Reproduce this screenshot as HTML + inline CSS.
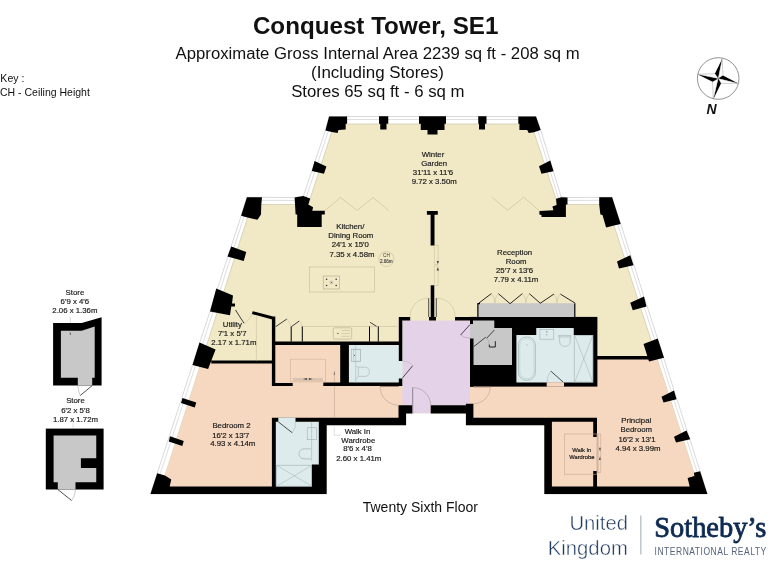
<!DOCTYPE html>
<html><head><meta charset="utf-8"><style>
html,body{margin:0;padding:0;background:#fff;}
body{width:768px;height:576px;overflow:hidden;position:relative;font-family:"Liberation Sans",sans-serif;}
.t{position:absolute;white-space:nowrap;color:#111;}
</style></head><body>
<svg width="768" height="576" viewBox="0 0 768 576" style="position:absolute;left:0;top:0;will-change:transform" font-family="Liberation Sans, sans-serif">
<polygon points="329.10,116.50 536.00,116.50 540.70,130.00 561.25,197.20 567.50,197.50 612.10,197.30 620.70,224.00 707.37,494.00 150.47,494.00 241.10,216.00 246.90,197.30 294.60,197.50 303.40,196.10 325.40,130.50" fill="#fff" stroke="#cfcfcf" stroke-width="0.8"/>
<polygon points="331.41,119.50 533.87,119.50 537.85,130.93 559.00,200.10 567.43,200.50 609.92,200.31 617.84,224.92 703.26,491.00 154.61,491.00 243.96,216.91 249.11,200.31 294.83,200.50 305.67,198.78 328.28,131.36" fill="none" stroke="#d6d6d6" stroke-width="0.8"/>
<polygon points="334.30,124.00 531.25,124.00 557.90,204.50 607.25,204.50 698.30,486.40 161.48,486.40 251.70,204.50 308.30,204.50" fill="#f1e9c6" stroke="#d0cbb0" stroke-width="0.8"/>
<polygon points="201.61,361.00 272.00,361.00 272.00,341.60 402.30,341.60 402.30,418.00 272.00,418.00 272.00,487.00 161.29,487.00" fill="#f5d8bf"/>
<polygon points="470.00,386.00 597.00,386.00 597.00,357.00 656.51,357.00 698.50,487.00 551.90,487.00 551.90,418.00 470.00,418.00" fill="#f5d8bf"/>
<polygon points="402.30,320.40 470.00,320.40 470.00,405.20 430.70,405.20 430.70,413.40 412.30,413.40 412.30,405.20 402.30,405.20" fill="#e4d3e8"/>
<polygon points="326.70,425.30 405.90,425.30 405.90,413.40 465.90,413.40 465.90,425.30 544.30,425.30 544.30,500.00 326.70,500.00" fill="#fff"/>
<rect x="470" y="316.9" width="127.4" height="69.7" fill="#000"/>
<rect x="348.9" y="345.1" width="53.4" height="37.5" fill="#ddebec"/>
<rect x="275.8" y="421.6" width="43.1" height="65.4" fill="#ddebec"/>
<polygon points="536.25,328.00 573.75,328.00 573.75,335.00 593.20,335.00 593.20,382.40 516.40,382.40 516.40,335.00 536.25,335.00" fill="#ddebec"/>
<polygon points="470.00,320.50 494.30,320.50 494.30,328.00 512.00,328.00 512.00,365.00 473.50,365.00 473.50,338.40 470.00,338.40" fill="#c8c8c8"/>
<rect x="477.3" y="303.2" width="97.5" height="13.7" fill="#c8c8c8"/>
<path d="M477.9,316.9 V303.6 H480" stroke="#000" stroke-width="1.2" fill="none"/>
<path d="M574.8,303.4 V316.9" stroke="#000" stroke-width="1.2" fill="none"/>
<rect x="546.7" y="382.2" width="17.3" height="4.5" fill="#f5d8bf"/>
<path fill="#000" d="M329.10,116.50 L347.10,116.50 L347.10,123.75 L345.70,123.75 L345.70,129.50 L338.40,130.00 L337.70,132.90 L331.70,131.90 L325.40,130.50 Z M379.00,116.30 L388.25,116.30 L388.25,123.75 L386.50,123.75 L386.50,129.50 L380.25,129.50 L380.25,123.75 L379.00,123.75 Z M419.00,116.30 L446.00,116.30 L446.00,123.75 L444.50,123.75 L444.50,130.00 L437.50,130.00 L437.50,134.50 L427.50,134.50 L427.50,130.00 L420.75,130.00 L420.75,123.75 L419.00,123.75 Z M478.25,116.30 L486.50,116.30 L486.50,123.75 L485.00,123.75 L485.00,129.50 L479.00,129.50 L479.00,123.75 L478.25,123.75 Z M518.30,116.50 L536.00,116.50 L540.70,130.00 L534.00,132.30 L528.75,133.10 L527.20,130.00 L519.40,130.00 L519.40,123.75 L518.30,123.75 Z M314.60,161.00 L326.40,166.50 L324.00,173.80 L311.80,171.00 Z M539.00,166.25 L550.25,160.50 L553.50,171.25 L541.50,173.75 Z M294.60,197.50 L303.40,196.10 L310.20,198.50 L308.30,204.50 L313.10,207.30 L312.30,210.70 L324.80,210.70 L324.80,214.40 L321.70,214.40 L321.70,226.90 L297.20,226.90 L297.20,214.40 L295.60,214.40 Z M556.00,198.75 L561.25,197.20 L567.50,197.50 L567.50,204.50 L565.90,204.50 L565.90,217.00 L541.50,217.00 L541.50,214.90 L539.40,214.40 L539.40,211.00 L553.40,210.20 L552.40,206.60 L556.60,205.00 Z M246.90,197.30 L262.00,197.30 L261.25,205.10 L261.00,214.50 L257.50,219.70 L247.40,217.60 L241.10,215.80 Z M599.20,197.30 L612.10,197.30 L620.70,223.90 L614.00,225.40 L606.10,227.50 L602.50,215.00 L600.40,214.50 L599.20,204.60 Z M157.20,473.30 L165.00,475.40 L171.25,479.60 L169.70,486.40 L326.70,486.40 L326.70,494.00 L150.47,494.00 Z M707.37,494.00 L544.30,494.00 L544.30,486.40 L689.70,486.40 L687.60,478.00 L694.40,476.00 L693.90,472.80 L700.10,471.25 Z M231.25,246.50 L246.25,252.00 L243.75,261.00 L227.50,256.50 Z M216.25,288.50 L233.00,295.50 L232.00,303.50 L235.00,303.50 L235.00,306.50 L231.30,306.50 L230.00,315.25 L210.00,311.50 Z M199.50,342.50 L215.60,349.50 L208.10,369.00 L192.50,365.00 Z M182.50,398.00 L196.25,402.50 L194.75,407.50 L181.00,403.00 Z M170.00,436.25 L183.75,441.00 L182.25,446.00 L168.75,441.50 Z M617.00,261.50 L630.25,255.25 L633.50,265.25 L619.00,268.50 Z M630.25,302.75 L644.00,296.50 L646.50,306.50 L632.75,310.25 Z M643.50,344.00 L657.75,338.50 L664.00,357.75 L649.00,361.50 Z M661.50,396.75 L674.00,390.50 L676.50,399.25 L663.50,402.50 Z M674.00,436.75 L686.50,430.50 L690.25,439.25 L676.00,442.50 Z M252.69,311.15 L273.99,316.85 L273.21,319.75 L251.91,314.05 Z M271.90,316.50 L275.30,316.50 L275.30,386.10 L271.90,386.10 Z M211.25,360.50 L275.00,360.50 L275.00,363.60 L211.25,363.60 Z M272.50,341.40 L402.30,341.40 L402.30,345.10 L272.50,345.10 Z M340.20,341.40 L348.90,341.40 L348.90,386.00 L340.20,386.00 Z M271.90,383.00 L292.70,383.00 L292.70,386.10 L271.90,386.10 Z M323.30,382.60 L402.30,382.60 L402.30,386.00 L323.30,386.00 Z M398.80,317.00 L402.30,317.00 L402.30,361.00 L398.80,361.00 Z M398.80,378.40 L402.30,378.40 L402.30,386.00 L398.80,386.00 Z M398.50,405.20 L406.10,405.20 L406.10,425.30 L398.50,425.30 Z M398.80,316.90 L410.20,316.90 L410.20,320.40 L398.80,320.40 Z M429.00,316.90 L436.00,316.90 L436.00,320.40 L429.00,320.40 Z M455.00,316.90 L470.00,316.90 L470.00,320.40 L455.00,320.40 Z M430.70,285.30 L434.30,285.30 L434.30,320.40 L430.70,320.40 Z M426.90,210.90 L437.80,210.90 L437.80,214.70 L426.90,214.70 Z M430.60,214.70 L434.50,214.70 L434.50,245.60 L430.60,245.60 Z M398.50,405.20 L412.30,405.20 L412.30,413.40 L398.50,413.40 Z M430.70,405.20 L470.00,405.20 L470.00,413.40 L430.70,413.40 Z M465.90,403.80 L473.40,403.80 L473.40,425.30 L465.90,425.30 Z M465.90,417.80 L551.90,417.80 L551.90,425.30 L465.90,425.30 Z M544.30,417.80 L551.90,417.80 L551.90,494.00 L544.30,494.00 Z M551.90,417.80 L597.00,417.80 L597.00,421.70 L551.90,421.70 Z M593.20,417.80 L597.00,417.80 L597.00,437.00 L593.20,437.00 Z M593.20,470.90 L597.00,470.90 L597.00,486.40 L593.20,486.40 Z M272.00,417.80 L405.90,417.80 L405.90,421.70 L272.00,421.70 Z M318.90,417.80 L405.90,417.80 L405.90,425.30 L318.90,425.30 Z M318.90,417.80 L326.70,417.80 L326.70,494.00 L318.90,494.00 Z M271.90,417.80 L275.80,417.80 L275.80,487.00 L271.90,487.00 Z M311.90,464.40 L319.50,464.40 L319.50,487.00 L311.90,487.00 Z M596.50,356.00 L649.00,356.00 L649.00,359.40 L596.50,359.40 Z M470.00,386.00 L473.40,386.00 L473.40,386.80 L470.00,386.80 Z M470.00,320.00 L473.00,320.00 L473.00,324.00 L470.00,324.00 Z"/>
<rect x="278.3" y="417.6" width="17.2" height="4.4" fill="#ddebec"/>
<g><polyline points="324.8,210.7 340.5,197.5 357,210.5 373,197.5 388.5,210.5" stroke="#c9c1a0" stroke-width="0.7" fill="none"/><polyline points="492,197.3 507.6,210.3 523.75,197.3 539.4,210.8" stroke="#c9c1a0" stroke-width="0.7" fill="none"/><path d="M478.7,303.2 L491.4,293.6 M498.3,293.6 L510.1,303.7 L522.4,293.6 M529.3,293.6 L540.25,303.25 L554,294 M560.25,294 L575.25,303.25" stroke="#111" stroke-width="0.9" fill="none"/><path d="M491.4,293.6 Q495,297 494.8,303 Q495,297 498.3,293.6 M522.4,293.6 Q526,297 525.8,303 Q526,297 529.3,293.6 M554,294 Q557,297 557,303 Q557,297 560.25,294" stroke="#c9c1a0" stroke-width="0.6" fill="none"/><rect x="434.2" y="245.6" width="3.9" height="18.8" fill="none" stroke="#c9c1a0" stroke-width="0.6"/><rect x="434.2" y="266" width="3.9" height="19.5" fill="none" stroke="#c9c1a0" stroke-width="0.6"/><path d="M410.2,317.5 A18,18 0 0 1 428.4,298.2 M455,317.5 A18,18 0 0 0 436.6,298.2" stroke="#c9c1a0" stroke-width="0.6" fill="none"/><path d="M428.7,298.2 V317 M436.3,298.2 V317" stroke="#222" stroke-width="0.8" fill="none"/><rect x="309.5" y="267" width="65" height="25" fill="none" stroke="#c9c1a0" stroke-width="0.7"/><rect x="323.25" y="276" width="16.25" height="13" fill="none" stroke="#b8b090" stroke-width="0.7"/><g fill="#333"><circle cx="326.6" cy="279.3" r="0.8"/><circle cx="336.2" cy="279.3" r="0.8"/><circle cx="326.6" cy="285.5" r="0.8"/><circle cx="336.2" cy="285.5" r="0.8"/><circle cx="331.4" cy="282.4" r="0.5"/></g><circle cx="331.4" cy="282.4" r="1.5" fill="none" stroke="#888" stroke-width="0.4"/><circle cx="386.4" cy="259" r="7.5" fill="none" stroke="#c8c0a0" stroke-width="0.7"/><path d="M302.7,326.4 H398.6" stroke="#c9c1a0" stroke-width="0.7" fill="none"/><rect x="333.2" y="327.8" width="18.5" height="11.3" rx="1.5" fill="none" stroke="#c0b898" stroke-width="0.8"/><circle cx="337.9" cy="333.4" r="0.7" fill="#555"/><path d="M341.5,330.5 H350 M341.5,333.4 H350 M341.5,336.3 H350" stroke="#c0b898" stroke-width="0.6"/><path d="M291.2,326.4 V341.6 M302.3,326.4 V341.6 M369.5,326.4 V341.6 M378.3,326.4 V341.6" stroke="#000" stroke-width="1" fill="none"/><path d="M275.7,326.6 L286.9,319 M291.6,326.6 L299.2,321 M370.1,322.3 L376.6,326.4" stroke="#111" stroke-width="0.8" fill="none"/><path d="M286.9,319 Q290,322 290.4,326.4 M299.2,321 Q301.5,323 301.8,326.4" stroke="#c9c1a0" stroke-width="0.6" fill="none"/><path d="M235.5,310 L244,323.3" stroke="#111" stroke-width="0.8"/><path d="M244,323.3 Q250,320 251.9,313.9" stroke="#c9c1a0" stroke-width="0.6" fill="none"/><path d="M256.4,316 V360.5" stroke="#c9c1a0" stroke-width="0.6"/><rect x="351.5" y="349.2" width="9" height="12.2" fill="none" stroke="#a9b3b5" stroke-width="0.6"/><rect x="353.6" y="349.6" width="6.8" height="11.5" fill="none" stroke="#a9b3b5" stroke-width="0.5"/><circle cx="354.5" cy="355.3" r="0.6" fill="#555"/><path d="M355.6,345.1 V382.6" stroke="#a9b3b5" stroke-width="0.5"/><path d="M356,366.3 L358.3,367.2 H365 Q369.5,367.5 369.5,371.8 Q369.5,376.2 365,376.4 H358.3 V367.2 M358.3,376.4 L356,379.5" fill="none" stroke="#a9b3b5" stroke-width="0.6"/><path d="M402.3,378.2 L412.6,365.8" stroke="#222" stroke-width="0.8"/><path d="M402.3,361 Q411,362 412.5,365.5" stroke="#b9a9b9" stroke-width="0.5" fill="none"/><rect x="290.5" y="359.2" width="34.8" height="22.7" fill="none" stroke="#d1b39c" stroke-width="0.6"/><rect x="292.8" y="378" width="30.1" height="3.4" fill="#dcc3ad"/><path d="M303,378.9 L306.9,377.9 L306.9,379.9 Z M312.7,378.9 L308.8,377.9 L308.8,379.9 Z" fill="#444"/><path d="M334.4,370.9 L335.1,374.8 L333.7,374.8 Z" fill="#444"/><path d="M437.8,264 L439,260.9 L436.6,260.9 Z M437.8,267.3 L439,270.6 L436.6,270.6 Z" fill="#444"/><path d="M600.1,451.7 L601.2,447.8 L599,447.8 Z M600.1,456 L601.2,460 L599,460 Z" fill="#444"/><rect x="597.2" y="434" width="1.8" height="38.3" fill="#dcc3ad"/><path d="M334.4,371.4 V382.6 M334.4,386 V417.8" stroke="#b59f8f" stroke-width="0.5"/><path d="M380.1,386.6 A18.7,18.7 0 0 0 398.8,405.3" stroke="#c0a090" stroke-width="0.6" fill="none"/><path d="M380.1,386.5 H398.8" stroke="#8a7060" stroke-width="0.8"/><path d="M412.7,387.6 V413.4" stroke="#7a6a7a" stroke-width="0.8"/><path d="M412.7,387.6 A18,18 0 0 1 430.7,405.2" stroke="#a090a0" stroke-width="0.6" fill="none"/><path d="M473.4,386.9 H490.3" stroke="#8a7060" stroke-width="0.8"/><path d="M490.3,386.9 A17,17 0 0 1 473.4,403.8" stroke="#c0a090" stroke-width="0.6" fill="none"/><path d="M470,324.5 L460.6,335" stroke="#222" stroke-width="0.8"/><path d="M460.6,335 Q464,338 470,338.2" stroke="#a090a0" stroke-width="0.5" fill="none"/><path d="M473.5,346.9 L485.8,337.1 M486.5,338.4 L494.3,330" stroke="#222" stroke-width="0.8" fill="none"/><path d="M489.3,344.5 V347 H495.3 V341.2" stroke="#222" stroke-width="1" fill="none"/><path d="M486.5,338.4 Q489,340 489.3,344.5" stroke="#999" stroke-width="0.5" fill="none"/><rect x="518.4" y="337" width="17" height="43.3" rx="8" fill="none" stroke="#9fb0b2" stroke-width="0.7"/><rect x="519.8" y="338.6" width="14.2" height="40.1" rx="7" fill="none" stroke="#b5c3c5" stroke-width="0.5"/><circle cx="527" cy="345" r="0.5" fill="#888"/><rect x="539.9" y="329.4" width="13.9" height="9.8" fill="none" stroke="#9fb0b2" stroke-width="0.6"/><path d="M546.8,331 V332.6 M546.8,334.4 V335.4" stroke="#555" stroke-width="0.6"/><path d="M558.6,335.4 H570.8 V336.9 H558.6 Z M559.6,336.9 V342 A5.4,5.4 0 0 0 570.2,342 V336.9" fill="none" stroke="#9fb0b2" stroke-width="0.6"/><rect x="574.2" y="335.4" width="18.6" height="46.6" fill="none" stroke="#9fb0b2" stroke-width="0.6"/><path d="M575,336 L592.5,381.5 M592.5,336 L575,381.5" stroke="#9fb0b2" stroke-width="0.5"/><path d="M550.8,371.1 L563.3,382.2" stroke="#222" stroke-width="0.8"/><path d="M550.8,371.1 Q547,376 547.2,382.2" stroke="#9fb0b2" stroke-width="0.5" fill="none"/><path d="M278.3,421.9 L292.3,432.8" stroke="#222" stroke-width="0.8"/><path d="M292.3,432.8 Q296,428 295.5,421.9" stroke="#9fb0b2" stroke-width="0.5" fill="none"/><rect x="307.2" y="427.7" width="9.4" height="12" fill="none" stroke="#9fb0b2" stroke-width="0.6"/><path d="M311.6,421.9 V461" stroke="#9fb0b2" stroke-width="0.5"/><path d="M311.1,448.8 H304 A5,5 0 0 0 304,458.9 H311.1" fill="none" stroke="#9fb0b2" stroke-width="0.7"/><path d="M318.4,421.9 V464.4" stroke="#9fb0b2" stroke-width="0.5"/><rect x="276.7" y="465.2" width="35" height="21" fill="none" stroke="#9fb0b2" stroke-width="0.6"/><path d="M277,465.5 L311.5,486 M311.5,465.5 L277,486" stroke="#9fb0b2" stroke-width="0.5"/><path d="M334.3,426.2 V435.2 H340.5" stroke="#cccccc" stroke-width="0.6" fill="none"/><rect x="564.6" y="434" width="32.4" height="40.2" fill="none" stroke="#c9a990" stroke-width="0.6"/><rect x="597.2" y="434" width="3.6" height="38.3" fill="none" stroke="#c9a990" stroke-width="0.6"/></g>
<polygon points="53.1,323 81.7,323 101.6,317.2 101.6,385.6 53.1,385.6" fill="#000"/><polygon points="60.9,330.8 81.7,330.8 94.7,326.6 94.7,377.8 92.2,377.8 92.2,385.6 77.8,385.6 77.8,377.8 60.9,377.8" fill="#c8c8c8"/><path d="M70.3,316.7 V323" stroke="#bbb" stroke-width="0.5"/><path d="M70.3,332.5 V335" stroke="#333" stroke-width="0.7"/><path d="M73.1,437.5 V440.5" stroke="#333" stroke-width="0.7"/><path d="M92.2,385.6 L80.2,395.5" stroke="#222" stroke-width="0.8"/><path d="M77.8,385.6 Q78.5,392 80.2,395.5" stroke="#999" stroke-width="0.5" fill="none"/><rect x="45.8" y="428.6" width="57.8" height="60.9" fill="#000"/><polygon points="53.6,435.6 96.25,435.6 96.25,458.3 80.9,458.3 80.9,468.1 96.25,468.1 96.25,482.2 75.5,482.2 75.5,489.5 57.8,489.5 57.8,482.2 53.6,482.2" fill="#c8c8c8"/><path d="M73.1,420 V428.6" stroke="#bbb" stroke-width="0.5"/><path d="M57.8,489.5 L71.6,500.5" stroke="#222" stroke-width="0.8"/><path d="M71.6,500.5 Q75,496 75.5,489.5" stroke="#999" stroke-width="0.5" fill="none"/>
<circle cx="718.2" cy="78.5" r="20.8" fill="#fff" stroke="#777" stroke-width="0.8"/><polygon points="718.20,78.50 722.20,58.70 714.90,73.70" fill="#000"/><polygon points="718.20,78.50 722.20,58.70 723.00,75.50" fill="#fff" stroke="#888" stroke-width="0.4"/><polygon points="718.20,78.50 738.30,83.40 723.00,75.50" fill="#000"/><polygon points="718.20,78.50 738.30,83.40 721.00,83.40" fill="#fff" stroke="#888" stroke-width="0.4"/><polygon points="718.20,78.50 713.30,99.20 721.00,83.40" fill="#000"/><polygon points="718.20,78.50 713.30,99.20 712.50,81.80" fill="#fff" stroke="#888" stroke-width="0.4"/><polygon points="718.20,78.50 697.50,74.30 712.50,81.80" fill="#000"/><polygon points="718.20,78.50 697.50,74.30 714.90,73.70" fill="#fff" stroke="#888" stroke-width="0.4"/>
<g font-family="Liberation Sans, sans-serif"><text x="433" y="156.70000000000002" font-size="7.8" text-anchor="middle" fill="#1a1a1a" font-weight="normal" stroke="#1a1a1a" stroke-width="0.18">Winter</text><text x="434.2" y="165.5" font-size="7.8" text-anchor="middle" fill="#1a1a1a" font-weight="normal" stroke="#1a1a1a" stroke-width="0.18">Garden</text><text x="433" y="174.9" font-size="7.8" text-anchor="middle" fill="#1a1a1a" font-weight="normal" stroke="#1a1a1a" stroke-width="0.18">31'11 x 11'6</text><text x="434.2" y="184.0" font-size="7.8" text-anchor="middle" fill="#1a1a1a" font-weight="normal" stroke="#1a1a1a" stroke-width="0.18">9.72 x 3.50m</text><text x="350.3" y="228.8" font-size="7.8" text-anchor="middle" fill="#1a1a1a" font-weight="normal" stroke="#1a1a1a" stroke-width="0.18">Kitchen/</text><text x="350.8" y="237.9" font-size="7.8" text-anchor="middle" fill="#1a1a1a" font-weight="normal" stroke="#1a1a1a" stroke-width="0.18">Dining Room</text><text x="350.3" y="247.3" font-size="7.8" text-anchor="middle" fill="#1a1a1a" font-weight="normal" stroke="#1a1a1a" stroke-width="0.18">24'1 x 15'0</text><text x="352.0" y="256.5" font-size="7.8" text-anchor="middle" fill="#1a1a1a" font-weight="normal" stroke="#1a1a1a" stroke-width="0.18">7.35 x 4.58m</text><text x="514.6" y="254.70000000000002" font-size="7.8" text-anchor="middle" fill="#1a1a1a" font-weight="normal" stroke="#1a1a1a" stroke-width="0.18">Reception</text><text x="516.1" y="263.55" font-size="7.8" text-anchor="middle" fill="#1a1a1a" font-weight="normal" stroke="#1a1a1a" stroke-width="0.18">Room</text><text x="514.6" y="272.6" font-size="7.8" text-anchor="middle" fill="#1a1a1a" font-weight="normal" stroke="#1a1a1a" stroke-width="0.18">25'7 x 13'6</text><text x="516.0" y="282.0" font-size="7.8" text-anchor="middle" fill="#1a1a1a" font-weight="normal" stroke="#1a1a1a" stroke-width="0.18">7.79 x 4.11m</text><text x="232.3" y="327.1" font-size="7.8" text-anchor="middle" fill="#1a1a1a" font-weight="normal" stroke="#1a1a1a" stroke-width="0.18">Utility</text><text x="232.3" y="336.40000000000003" font-size="7.8" text-anchor="middle" fill="#1a1a1a" font-weight="normal" stroke="#1a1a1a" stroke-width="0.18">7'1 x 5'7</text><text x="233.9" y="345.3" font-size="7.8" text-anchor="middle" fill="#1a1a1a" font-weight="normal" stroke="#1a1a1a" stroke-width="0.18">2.17 x 1.71m</text><text x="231.5" y="428.1" font-size="7.8" text-anchor="middle" fill="#1a1a1a" font-weight="normal" stroke="#1a1a1a" stroke-width="0.18">Bedroom 2</text><text x="230.8" y="437.5" font-size="7.8" text-anchor="middle" fill="#1a1a1a" font-weight="normal" stroke="#1a1a1a" stroke-width="0.18">16'2 x 13'7</text><text x="232.8" y="446.2" font-size="7.8" text-anchor="middle" fill="#1a1a1a" font-weight="normal" stroke="#1a1a1a" stroke-width="0.18">4.93 x 4.14m</text><text x="357.5" y="433.5" font-size="7.8" text-anchor="middle" fill="#1a1a1a" font-weight="normal" stroke="#1a1a1a" stroke-width="0.18">Walk In</text><text x="358.3" y="442.6" font-size="7.8" text-anchor="middle" fill="#1a1a1a" font-weight="normal" stroke="#1a1a1a" stroke-width="0.18">Wardrobe</text><text x="357.5" y="451.40000000000003" font-size="7.8" text-anchor="middle" fill="#1a1a1a" font-weight="normal" stroke="#1a1a1a" stroke-width="0.18">8'6 x 4'8</text><text x="358.8" y="460.8" font-size="7.8" text-anchor="middle" fill="#1a1a1a" font-weight="normal" stroke="#1a1a1a" stroke-width="0.18">2.60 x 1.41m</text><text x="636.3" y="423.40000000000003" font-size="7.8" text-anchor="middle" fill="#1a1a1a" font-weight="normal" stroke="#1a1a1a" stroke-width="0.18">Principal</text><text x="636.3" y="432.40000000000003" font-size="7.8" text-anchor="middle" fill="#1a1a1a" font-weight="normal" stroke="#1a1a1a" stroke-width="0.18">Bedroom</text><text x="637.1" y="441.6" font-size="7.8" text-anchor="middle" fill="#1a1a1a" font-weight="normal" stroke="#1a1a1a" stroke-width="0.18">16'2 x 13'1</text><text x="638.0" y="450.90000000000003" font-size="7.8" text-anchor="middle" fill="#1a1a1a" font-weight="normal" stroke="#1a1a1a" stroke-width="0.18">4.94 x 3.99m</text><text x="581.8" y="452.1" font-size="5.8" text-anchor="middle" fill="#1a1a1a" font-weight="normal" stroke="#1a1a1a" stroke-width="0.18">Walk In</text><text x="581.8" y="458.8" font-size="5.8" text-anchor="middle" fill="#1a1a1a" font-weight="normal" stroke="#1a1a1a" stroke-width="0.18">Wardrobe</text><text x="386.4" y="257.3" font-size="4.6" text-anchor="middle" fill="#333" font-weight="normal" >CH</text><text x="386.3" y="262.8" font-size="4.6" text-anchor="middle" fill="#333" font-weight="normal" stroke="#333" stroke-width="0.1">2.66m</text><text x="74.9" y="294.6" font-size="7.8" text-anchor="middle" fill="#1a1a1a" font-weight="normal" stroke="#1a1a1a" stroke-width="0.18">Store</text><text x="74.9" y="303.7" font-size="7.8" text-anchor="middle" fill="#1a1a1a" font-weight="normal" stroke="#1a1a1a" stroke-width="0.18">6'9 x 4'6</text><text x="74.9" y="312.5" font-size="7.8" text-anchor="middle" fill="#1a1a1a" font-weight="normal" stroke="#1a1a1a" stroke-width="0.18">2.06 x 1.36m</text><text x="75.5" y="403.40000000000003" font-size="7.8" text-anchor="middle" fill="#1a1a1a" font-weight="normal" stroke="#1a1a1a" stroke-width="0.18">Store</text><text x="75.5" y="412.6" font-size="7.8" text-anchor="middle" fill="#1a1a1a" font-weight="normal" stroke="#1a1a1a" stroke-width="0.18">6'2 x 5'8</text><text x="75.5" y="421.8" font-size="7.8" text-anchor="middle" fill="#1a1a1a" font-weight="normal" stroke="#1a1a1a" stroke-width="0.18">1.87 x 1.72m</text></g>
<text x="252.9" y="33.8" font-size="23.5" font-weight="bold" fill="#111" textLength="245.5" lengthAdjust="spacingAndGlyphs">Conquest Tower, SE1</text>
<text x="175.6" y="58.8" font-size="15.8" fill="#111" textLength="404" lengthAdjust="spacingAndGlyphs">Approximate Gross Internal Area 2239 sq ft - 208 sq m</text>
<text x="311.1" y="78.3" font-size="15.8" fill="#111" textLength="132.8" lengthAdjust="spacingAndGlyphs">(Including Stores)</text>
<text x="291.2" y="97.1" font-size="15.8" fill="#111" textLength="173.3" lengthAdjust="spacingAndGlyphs">Stores 65 sq ft - 6 sq m</text>
<text x="0.3" y="81.7" font-size="10.5" fill="#111" textLength="24.2" lengthAdjust="spacing">Key :</text>
<text x="0" y="95.5" font-size="10.5" fill="#111">CH - Ceiling Height</text>
<text x="711.5" y="113.8" font-size="14" font-weight="bold" font-style="italic" text-anchor="middle" fill="#111">N</text>
<text x="420.3" y="512.3" font-size="14" text-anchor="middle" fill="#111">Twenty Sixth Floor</text>
<text x="569.4" y="530.4" font-size="20" fill="#1f3a60" stroke="#fff" stroke-width="0.45" textLength="58.5" lengthAdjust="spacingAndGlyphs">United</text>
<text x="547.8" y="554.5" font-size="20" fill="#1f3a60" stroke="#fff" stroke-width="0.45" textLength="80" lengthAdjust="spacingAndGlyphs">Kingdom</text>
<rect x="640.3" y="515.5" width="1.1" height="39" fill="#a7afbd"/>
<text x="654.3" y="536.6" font-size="28.5" font-family="Liberation Serif, serif" fill="#0e2a52" stroke="#0e2a52" stroke-width="0.8" textLength="112" lengthAdjust="spacingAndGlyphs">Sotheby’s</text>
<text transform="translate(654.6,554.6) scale(0.82,1)" x="0" y="0" font-size="10.4" fill="#56647c" textLength="136.1" lengthAdjust="spacing">INTERNATIONAL REALTY</text>
</svg>
</body></html>
